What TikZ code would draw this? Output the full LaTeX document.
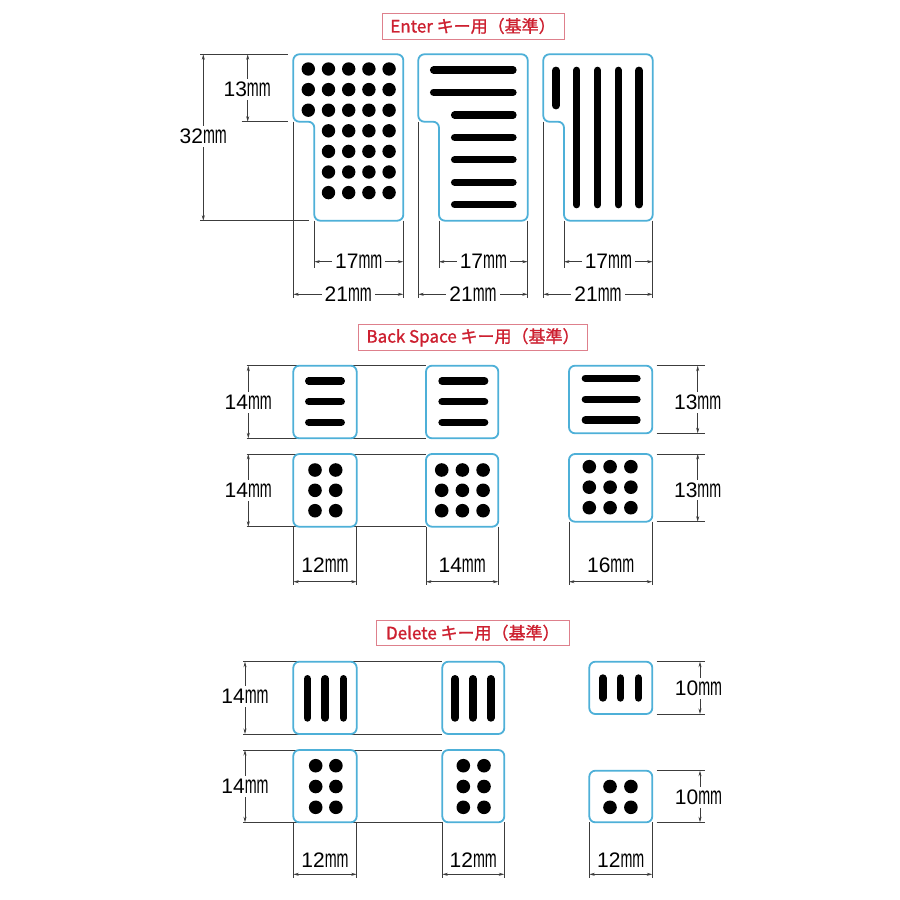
\documentclass[tikz,border=0pt]{standalone}
\usepackage{fontspec}
\usepackage{graphicx}
\setmainfont{Liberation Sans}
\newfontfamily\cjk{Noto Sans CJK JP}[FakeBold=1.2]
\usetikzlibrary{arrows.meta}
\definecolor{keyblue}{RGB}{78,176,216}
\definecolor{titlered}{RGB}{205,32,48}
\definecolor{titlebord}{RGB}{222,128,140}
\definecolor{dimgray}{RGB}{60,60,60}
\newcommand\mmlab[1]{#1\scalebox{0.68}[1.2]{mm}}
\tikzset{
  keyb/.style={draw=keyblue, line width=1.8pt, rounded corners=6pt},
  dimln/.style={draw=dimgray, line width=0.7pt},
  dimarr/.style={dimln, {Stealth[length=5.5pt,width=3pt]}-{Stealth[length=5.5pt,width=3pt]}},
  lab/.style={font=\fontsize{21}{23}\selectfont, inner sep=1.5pt, text=black},
  labw/.style={lab, fill=white, inner sep=3pt},
  hbar/.style={line width=7.3pt, line cap=round, draw=black},
  ttl/.style={draw=titlebord, line width=0.8pt, text=titlered, inner sep=0pt,
    font=\cjk\fontsize{17}{20}\selectfont}
}
\begin{document}
\begin{tikzpicture}[x=1pt,y=-1pt]
\useasboundingbox (0,0) rectangle (900,900);
\fill[white] (0,0) rectangle (900,900);

% ===================== ENTER =====================
\node[ttl, minimum width=182pt, minimum height=26pt] (t1) at (473,26) {Enter キー用（基準）};

% key outlines
\draw[keyb] (350,54.3) -- (403.3,54.3) -- (403.3,220.7) -- (314.3,220.7) -- (314.3,121.7) -- (293.3,121.7) -- (293.3,54.3) -- cycle;
\draw[keyb] (470,54.3) -- (527.7,54.3) -- (527.7,220.7) -- (439,220.7) -- (439,121.7) -- (418.3,121.7) -- (418.3,54.3) -- cycle;
\draw[keyb] (600,54.3) -- (652.7,54.3) -- (652.7,220.7) -- (564,220.7) -- (564,121.7) -- (543.3,121.7) -- (543.3,54.3) -- cycle;

% key 1 dots
\foreach \y in {69,89.6,110.2}
  \foreach \x in {308.3,328.5,348.7,368.9,389.1}
    \fill (\x,\y) circle[radius=6.7pt];
\foreach \y in {130.8,151.4,172,192.6}
  \foreach \x in {328.5,348.7,368.9,389.1}
    \fill (\x,\y) circle[radius=6.7pt];

% key 2 bars
\foreach \y in {70,92.3}
  \draw[hbar] (433.6,\y) -- (513,\y);
\foreach \y in {115,137.4,159.8,182.2,204.6}
  \draw[hbar] (454.6,\y) -- (513,\y);

% key 3 bars
\draw[hbar] (556,70.3) -- (556,105.7);
\foreach \x in {576.7,597.5,618.3,639}
  \draw[hbar] (\x,70.3) -- (\x,204.7);

% 32mm / 13mm
\draw[dimln] (200,54.3) -- (288.3,54.3);
\draw[dimln] (200,220.7) -- (309,220.7);
\draw[dimln] (241.7,121.7) -- (288.3,121.7);
\draw[dimarr] (203.3,54.3) -- (203.3,220.7);
\draw[dimarr] (247.7,54.3) -- (247.7,121.7);
\node[labw] (d32) at (203.3,136.7) {\mmlab{32}};
\node[labw] (d13) at (247.2,89.3) {\mmlab{13}};

% bottom dims
\foreach \L/\I/\R in {293.3/314.3/403.3, 418.3/439/527.7, 543.3/564/652.7}{
  \draw[dimln] (\L,121.7) -- (\L,298);
  \draw[dimln] (\I,220.7) -- (\I,268);
  \draw[dimln] (\R,220.7) -- (\R,298);
  \draw[dimarr] (\I,261.7) -- (\R,261.7);
  \draw[dimarr] (\L,294.3) -- (\R,294.3);
  \node[labw] at ({(\I+\R)/2},261.7) {\mmlab{17}};
  \node[labw] at ({(\L+\R)/2},294.3) {\mmlab{21}};
}

% ===================== BACK SPACE =====================
\node[ttl, minimum width=229.4pt, minimum height=26.7pt] (t2) at (473,337.3) {Back Space キー用（基準）};

% guide lines
\foreach \y in {365.7,438.3,454,526.7}
  \draw[dimln] (246.7,\y) -- (426,\y);
\draw[dimarr] (248.3,365.7) -- (248.3,438.3);
\draw[dimarr] (248.3,454) -- (248.3,526.7);
\node[labw] at (248.3,402.7) {\mmlab{14}};
\node[labw] at (248.3,490.7) {\mmlab{14}};

% right dims
\foreach \y in {365.7,433.3,454,521.7}
  \draw[dimln] (656.7,\y) -- (705,\y);
\draw[dimarr] (697.7,365.7) -- (697.7,433.3);
\draw[dimarr] (697.7,454) -- (697.7,521.7);
\node[labw] at (697.7,402.7) {\mmlab{13}};
\node[labw] at (697.7,490) {\mmlab{13}};

% keys row 1
\draw[keyb, fill=white] (293.3,365.7) rectangle (356.7,438.3);
\draw[keyb, fill=white] (426,365.7) rectangle (498.3,438.3);
\draw[keyb, fill=white] (569,365.7) rectangle (652.3,433.3);
\foreach \y in {381,401.7,422.3}{
  \draw[hbar] (308.7,\y) -- (341.3,\y);
  \draw[hbar] (442,\y) -- (484.7,\y);
}
\foreach \y in {378.3,399.3,420}
  \draw[hbar] (585.3,\y) -- (637,\y);

% keys row 2
\draw[keyb, fill=white] (293.3,454) rectangle (356.7,526.7);
\draw[keyb, fill=white] (426,454) rectangle (498.3,526.7);
\draw[keyb, fill=white] (569,454) rectangle (652.3,521.7);
\foreach \y in {470,490.3,510.7}{
  \foreach \x in {315,335.7}
    \fill (\x,\y) circle[radius=6.8pt];
  \foreach \x in {441.7,462.4,483.1}
    \fill (\x,\y) circle[radius=6.8pt];
}
\foreach \y in {466.7,487.2,507.7}
  \foreach \x in {589.3,610.1,630.9}
    \fill (\x,\y) circle[radius=6.8pt];

% bottom dims
\foreach \L/\R/\T/\b in {293.3/356.7/12/526.7, 426/498.3/14/526.7, 569/652.3/16/521.7}{
  \draw[dimln] (\L,\b) -- (\L,585);
  \draw[dimln] (\R,\b) -- (\R,585);
  \draw[dimarr] (\L,581.7) -- (\R,581.7);
  \node[lab] at ({(\L+\R)/2},565) {\mmlab{\T}};
}

% ===================== DELETE =====================
\node[ttl, minimum width=192.3pt, minimum height=25.7pt] (t3) at (472.8,632.8) {Delete キー用（基準）};

\foreach \y in {661.7,734,750,822.3}
  \draw[dimln] (243.3,\y) -- (442.3,\y);
\draw[dimarr] (245,661.7) -- (245,734);
\draw[dimarr] (245,750) -- (245,822.3);
\node[labw] at (245,696.7) {\mmlab{14}};
\node[labw] at (245,786.7) {\mmlab{14}};

\foreach \y in {661.7,714,770.7,822.3}
  \draw[dimln] (656.7,\y) -- (705,\y);
\draw[dimarr] (700,661.7) -- (700,714);
\draw[dimarr] (700,770.7) -- (700,822.3);
\node[labw] at (698.5,688.3) {\mmlab{10}};
\node[labw] at (698.5,797.7) {\mmlab{10}};

% keys row 1
\draw[keyb, fill=white] (293.3,661.7) rectangle (356.7,734);
\draw[keyb, fill=white] (442.3,661.7) rectangle (504.3,734);
\draw[keyb, fill=white] (589.3,661.7) rectangle (652.3,714);
\foreach \x in {307.3,325.2,343.3,455,472.8,490.7}
  \draw[hbar, line width=7.6pt] (\x,678.8) -- (\x,717.9);
\foreach \x in {602.7,620.4,638.3}
  \draw[hbar, line width=7.6pt] (\x,678.1) -- (\x,697.9);

% keys row 2
\draw[keyb, fill=white] (293.3,750) rectangle (356.7,822.3);
\draw[keyb, fill=white] (442.3,750) rectangle (504.3,822.3);
\draw[keyb, fill=white] (589.3,770.7) rectangle (652.3,822.3);
\foreach \y in {765.7,786.5,807.3}
  \foreach \x in {315.7,335.9,463.3,484}
    \fill (\x,\y) circle[radius=6.8pt];
\foreach \y in {786.5,807.3}
  \foreach \x in {610,630.9}
    \fill (\x,\y) circle[radius=6.8pt];

% bottom dims
\foreach \L/\R in {293.3/356.7, 442.3/504.3, 589.3/652.3}{
  \draw[dimln] (\L,822.3) -- (\L,878.3);
  \draw[dimln] (\R,822.3) -- (\R,878.3);
  \draw[dimarr] (\L,874.3) -- (\R,874.3);
  \node[lab] at ({(\L+\R)/2},860) {\mmlab{12}};
}
\end{tikzpicture}
\end{document}
